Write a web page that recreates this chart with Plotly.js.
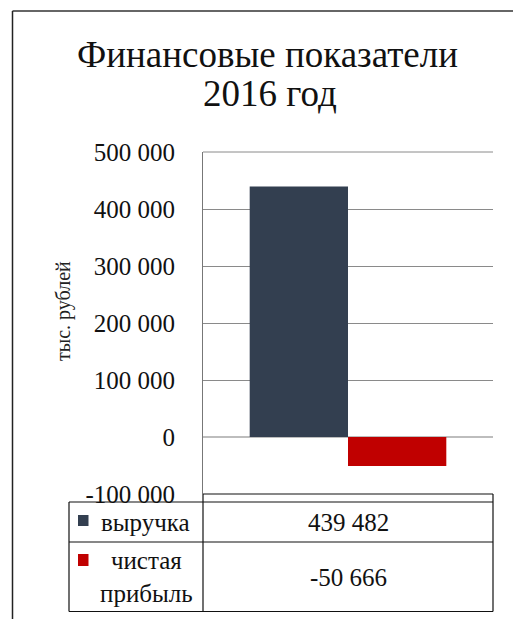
<!DOCTYPE html>
<html>
<head>
<meta charset="utf-8">
<script src="https://cdn.plot.ly/plotly-3.0.1.min.js"></script>
<style>html,body{margin:0;padding:0;background:#fff;}#chart{width:513px;height:619px;}</style>
</head>
<body>
<div id="chart"></div>
<script>
// ---- data ----
var categories = ['2016'];
var seriesNames = ['выручка', 'чистая<br>прибыль'];
var revenue = [439482];
var netProfit = [-50666];
var tickValues = [-100000, 0, 100000, 200000, 300000, 400000, 500000];
var tickLabels = ['-100 000', '0', '100 000', '200 000', '300 000', '400 000', '500 000'];
var titleLines = ['Финансовые показатели', '2016 год'];
var yTitle = 'тыс. рублей';

// ---- style / layout helpers ----
var W = 513, H = 619;
var colors = ['#333f50', '#c00000'];
var FONT = 'Liberation Serif';
function px(x) { return x / W; }
function py(y) { return 1 - y / H; }
function fmt(v) {
  var s = Math.abs(v).toString().replace(/\B(?=(\d{3})+(?!\d))/g, ' ');
  return (v < 0 ? '-' : '') + s;
}

var plotL = 203, plotR = 493, plotT = 152, plotB = 494;
var row0B = 502, row1B = 542, row2B = 611.5, tableL = 69;

var traces = [
  {type: 'bar', x: categories, y: revenue, name: seriesNames[0],
   marker: {color: colors[0], line: {width: 0}}},
  {type: 'bar', x: categories, y: netProfit, name: seriesNames[1],
   marker: {color: colors[1], line: {width: 0}}}
];

var line = function (x0, y0, x1, y1, color, width) {
  return {type: 'line', xref: 'paper', yref: 'paper',
    x0: px(x0), y0: py(y0), x1: px(x1), y1: py(y1),
    line: {color: color, width: width}, layer: 'above'};
};

var shapes = [
  // outer frame
  line(12.5, 11, 513, 11, '#666666', 2),
  line(12.5, 11, 12.5, 619, '#222222', 1.5),
  // top border of plot area
  line(plotL, plotT, plotR, plotT, '#8a8a8a', 1),
  // data table
  line(plotL, plotB, plotR, plotB, '#111111', 1.2),
  line(tableL, row0B, plotR, row0B, '#111111', 1.2),
  line(tableL, row1B, plotR, row1B, '#111111', 1.2),
  line(tableL, row2B, plotR, row2B, '#111111', 1.2),
  line(tableL, row0B, tableL, row2B, '#111111', 1.2),
  line(plotL, plotB, plotL, row2B, '#111111', 1.2),
  line(plotR, plotB, plotR, row2B, '#111111', 1.2),
  // legend keys
  {type: 'rect', xref: 'paper', yref: 'paper', x0: px(78), x1: px(88.5), y0: py(515), y1: py(526),
   fillcolor: colors[0], line: {width: 0}},
  {type: 'rect', xref: 'paper', yref: 'paper', x0: px(78), x1: px(88.5), y0: py(554), y1: py(566),
   fillcolor: colors[1], line: {width: 0}}
];

var tfont = {family: FONT, size: 25, color: '#111111'};
var annotations = [
  {xref: 'paper', yref: 'paper', x: px(270), y: py(93.5), text: titleLines[1],
   showarrow: false, xanchor: 'center', yanchor: 'middle',
   font: {family: FONT, size: 37, color: '#111111'}},
  {xref: 'paper', yref: 'paper', x: px(63), y: py(311), text: yTitle, textangle: -90,
   showarrow: false, xanchor: 'center', yanchor: 'middle',
   font: {family: FONT, size: 20, color: '#222222'}},
  {xref: 'paper', yref: 'paper', x: px(145.5), y: py(522), text: seriesNames[0],
   showarrow: false, xanchor: 'center', yanchor: 'middle', font: tfont},
  {xref: 'paper', yref: 'paper', x: px(146.5), y: py(577), text: seriesNames[1],
   showarrow: false, xanchor: 'center', yanchor: 'middle', font: tfont},
  {xref: 'paper', yref: 'paper', x: px((plotL + plotR) / 2), y: py(522), text: fmt(revenue[0]),
   showarrow: false, xanchor: 'center', yanchor: 'middle', font: tfont},
  {xref: 'paper', yref: 'paper', x: px((plotL + plotR) / 2), y: py(577), text: fmt(netProfit[0]),
   showarrow: false, xanchor: 'center', yanchor: 'middle', font: tfont}
];

var layout = {
  width: W, height: H,
  margin: {l: 0, r: 0, t: 0, b: 0, pad: 0},
  paper_bgcolor: '#ffffff', plot_bgcolor: '#ffffff',
  showlegend: false,
  barmode: 'group', bargap: 0.322, bargroupgap: 0,
  title: {text: titleLines[0], x: px(267.5), xanchor: 'center', xref: 'paper',
          y: py(54.5), yref: 'container', yanchor: 'middle',
          font: {family: FONT, size: 37, color: '#111111'}},
  xaxis: {domain: [px(plotL), px(plotR)], showticklabels: false, showgrid: false,
          zeroline: false, showline: false, ticks: '', automargin: false, fixedrange: true},
  yaxis: {domain: [py(plotB), py(plotT)], range: [-100000, 500000],
          tickvals: tickValues, ticktext: tickLabels, ticks: '',
          ticklabelstandoff: 22, automargin: false,
          tickfont: {family: FONT, size: 25, color: '#111111'},
          showgrid: true, gridcolor: '#8a8a8a', gridwidth: 1,
          zeroline: true, zerolinecolor: '#bdbdbd', zerolinewidth: 1.5,
          showline: true, linecolor: '#777777', linewidth: 1, fixedrange: true},
  shapes: shapes,
  annotations: annotations
};

Plotly.newPlot('chart', traces, layout, {displayModeBar: false, staticPlot: true});
</script>
</body>
</html>
